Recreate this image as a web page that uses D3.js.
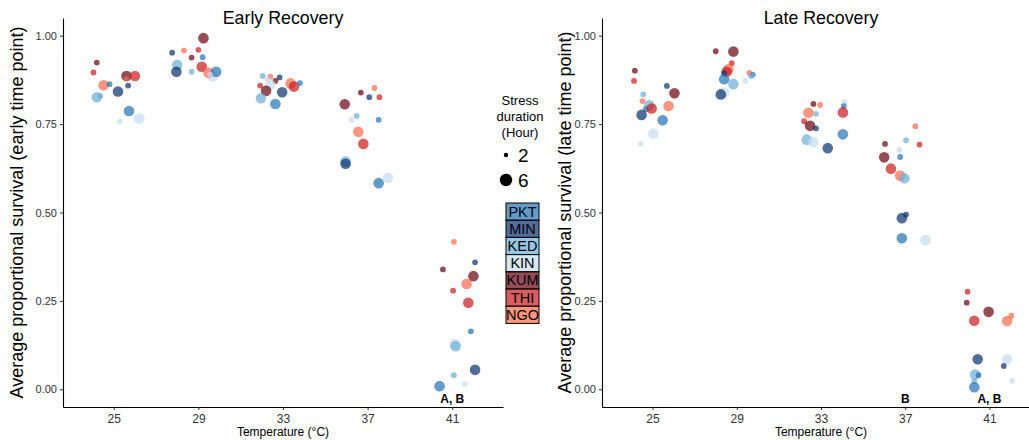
<!DOCTYPE html>
<html>
<head>
<meta charset="utf-8">
<script src="https://cdn.jsdelivr.net/npm/d3@7"></script>
<style>
  body { margin: 0; background: #fff; }
  svg { font-family: "Liberation Sans", Arial, sans-serif; }
</style>
</head>
<body>
<svg id="chart" width="1029" height="440"></svg>
<script>
// categories
const temps = [25, 29, 33, 37, 41];
const pops = ["PKT", "MIN", "KED", "KIN", "KUM", "THI", "NGO"];
const popColors = ["#2171b5", "#08306b", "#6baed6", "#c6dbef", "#67000d", "#cb181d", "#fb6a4a"];
const hours = [2, 6];

// [temperature, population, hours, jitter (fraction of a category), survival]
const early = [
  [25,"KUM",2,-0.20,0.924],[25,"THI",2,-0.24,0.896],[25,"NGO",6,-0.12,0.860],[25,"PKT",2,-0.05,0.863],
  [25,"MIN",6,0.05,0.842],[25,"KED",6,-0.20,0.826],[25,"KUM",6,0.15,0.886],[25,"THI",6,0.25,0.886],
  [25,"NGO",2,0.15,0.878],[25,"MIN",2,0.17,0.859],[25,"PKT",6,0.18,0.787],[25,"KIN",2,0.07,0.757],
  [25,"KIN",6,0.30,0.766],[25,"KED",2,-0.16,0.830],
  [29,"MIN",2,-0.31,0.952],[29,"NGO",2,-0.17,0.958],[29,"KUM",6,0.06,0.993],[29,"THI",2,0.00,0.960],
  [29,"KUM",2,-0.08,0.938],[29,"PKT",2,0.05,0.939],[29,"KED",6,-0.25,0.917],[29,"MIN",6,-0.26,0.898],
  [29,"KED",2,-0.08,0.898],[29,"THI",6,0.04,0.912],[29,"KIN",6,0.17,0.884],[29,"NGO",6,0.12,0.895],
  [29,"PKT",6,0.21,0.898],[29,"KIN",2,0.14,0.890],
  [33,"KED",2,-0.24,0.886],[33,"NGO",2,-0.15,0.884],[33,"MIN",2,-0.04,0.882],[33,"KUM",2,-0.09,0.872],
  [33,"THI",2,-0.27,0.859],[33,"KIN",6,-0.15,0.861],[33,"KUM",6,-0.20,0.844],[33,"MIN",6,-0.01,0.840],
  [33,"KED",6,-0.26,0.823],[33,"PKT",6,-0.09,0.807],[33,"NGO",6,0.09,0.865],[33,"THI",6,0.13,0.856],
  [33,"PKT",2,0.20,0.866],[33,"KIN",2,-0.18,0.876],
  [37,"NGO",2,0.08,0.852],[37,"KUM",2,-0.08,0.839],[37,"MIN",2,0.02,0.826],[37,"THI",2,0.14,0.826],
  [37,"KUM",6,-0.27,0.806],[37,"KED",2,-0.13,0.773],[37,"KIN",2,-0.19,0.762],[37,"PKT",2,0.13,0.762],
  [37,"NGO",6,-0.11,0.728],[37,"THI",6,-0.05,0.694],[37,"KED",6,-0.26,0.644],[37,"MIN",6,-0.26,0.638],
  [37,"KIN",6,0.24,0.598],[37,"PKT",6,0.13,0.583],
  [41,"NGO",2,0.02,0.417],[41,"MIN",2,0.27,0.359],[41,"KUM",2,-0.11,0.339],[41,"KUM",6,0.25,0.320],
  [41,"NGO",6,0.17,0.298],[41,"THI",2,0.01,0.279],[41,"THI",6,0.19,0.245],[41,"PKT",2,0.22,0.164],
  [41,"KIN",6,0.03,0.128],[41,"KED",6,0.04,0.122],[41,"MIN",6,0.27,0.055],[41,"KED",2,0.02,0.040],
  [41,"KIN",2,0.15,0.015],[41,"PKT",6,-0.15,0.009]
];

const late = [
  [25,"KUM",2,-0.21,0.901],[25,"THI",2,-0.22,0.872],[25,"MIN",2,0.17,0.858],[25,"KUM",6,0.26,0.837],
  [25,"KED",2,-0.11,0.834],[25,"NGO",2,-0.12,0.815],[25,"KED",6,-0.04,0.803],[25,"PKT",2,-0.08,0.792],
  [25,"THI",6,-0.01,0.794],[25,"NGO",6,0.19,0.801],[25,"MIN",6,-0.13,0.776],[25,"PKT",6,0.12,0.761],
  [25,"KIN",6,0.01,0.723],[25,"KIN",2,-0.14,0.694],
  [29,"KUM",2,-0.25,0.956],[29,"KUM",6,-0.04,0.955],[29,"THI",2,-0.06,0.922],[29,"NGO",6,-0.10,0.905],
  [29,"THI",6,-0.12,0.898],[29,"MIN",2,-0.15,0.894],[29,"NGO",2,0.15,0.895],[29,"PKT",6,-0.15,0.877],
  [29,"KED",6,-0.04,0.863],[29,"KIN",2,0.10,0.872],[29,"KIN",6,-0.15,0.839],[29,"MIN",6,-0.19,0.834],
  [29,"PKT",2,0.19,0.890],[29,"KED",2,0.17,0.886],
  [33,"KUM",2,-0.09,0.807],[33,"NGO",2,-0.01,0.804],[33,"NGO",6,-0.15,0.782],[33,"KED",2,-0.06,0.779],
  [33,"THI",2,-0.20,0.758],[33,"KUM",6,-0.13,0.745],[33,"MIN",2,-0.06,0.738],[33,"KED",6,-0.17,0.706],
  [33,"KIN",6,-0.09,0.699],[33,"MIN",6,0.08,0.682],[33,"KIN",2,0.28,0.812],[33,"PKT",2,0.27,0.801],
  [33,"THI",6,0.26,0.783],[33,"PKT",6,0.26,0.721],
  [37,"KUM",2,-0.24,0.694],[37,"KED",2,0.01,0.704],[37,"THI",2,0.17,0.692],[37,"KIN",2,-0.07,0.677],
  [37,"PKT",2,-0.06,0.657],[37,"KUM",6,-0.25,0.656],[37,"THI",6,-0.17,0.624],[37,"NGO",6,-0.06,0.604],
  [37,"KED",6,-0.01,0.597],[37,"MIN",6,-0.04,0.484],[37,"MIN",2,0.01,0.494],[37,"PKT",6,-0.04,0.427],
  [37,"KIN",6,0.24,0.422],[37,"NGO",2,0.12,0.744],
  [41,"THI",2,-0.26,0.276],[41,"KUM",2,-0.27,0.245],[41,"KUM",6,-0.01,0.219],[41,"THI",6,-0.18,0.194],
  [41,"NGO",6,0.21,0.193],[41,"NGO",2,0.26,0.208],[41,"MIN",6,-0.14,0.085],[41,"KIN",6,0.21,0.085],
  [41,"MIN",2,0.17,0.066],[41,"KED",6,-0.17,0.042],[41,"PKT",2,-0.13,0.040],[41,"KED",2,-0.18,0.023],
  [41,"PKT",6,-0.18,0.006],[41,"KIN",2,0.27,0.024]
];

// significance letters
const earlyLetters = [[41, "A, B"]];
const lateLetters = [[37, "B"], [41, "A, B"]];

const yTicks = [0, 0.25, 0.5, 0.75, 1];

const svg = d3.select("#chart");
const color = d3.scaleOrdinal(pops, popColors);
const size = d3.scaleSqrt().domain([2, 6]).range([2.9, 5.3]);
const alpha = 0.7;

const y = d3.scaleLinear().domain([-0.05, 1.05]).range([407, 18]);

function panel(data, letters, left, right, title, ytitle, ytitleX) {
  // ggplot-like discrete axis, 0.6 expansion on each side
  const x = d3.scaleLinear().domain([0.4, temps.length + 0.6]).range([left, right]);
  const xPos = (t, j) => x(temps.indexOf(t) + 1 + j);

  const g = svg.append("g");

  // y axis
  const ya = g.append("g")
    .attr("transform", `translate(${left},0)`)
    .call(d3.axisLeft(y).tickValues(yTicks).tickFormat(d3.format(".2f")).tickSize(3).tickSizeOuter(0));
  ya.select(".domain").attr("stroke", "#000").attr("stroke-width", 1.1);
  ya.selectAll(".tick line").attr("stroke", "#333");
  ya.selectAll(".tick text").attr("fill", "#333").attr("font-size", 11)
    .attr("font-family", "Liberation Sans, Arial, sans-serif");

  // x axis
  const xa = g.append("g")
    .attr("transform", `translate(0,407)`)
    .call(d3.axisBottom(x).tickValues(d3.range(1, temps.length + 1))
      .tickFormat(i => temps[i - 1]).tickSize(3).tickSizeOuter(0));
  xa.select(".domain").attr("stroke", "#000").attr("stroke-width", 1.1);
  xa.selectAll(".tick line").attr("stroke", "#333");
  xa.selectAll(".tick text").attr("fill", "#333").attr("font-size", 12).attr("dy", "0.85em")
    .attr("font-family", "Liberation Sans, Arial, sans-serif");

  // points
  g.append("g").selectAll("circle")
    .data(data)
    .join("circle")
      .attr("cx", d => xPos(d[0], d[3]))
      .attr("cy", d => y(d[4]))
      .attr("r", d => size(d[2]))
      .attr("fill", d => color(d[1]))
      .attr("fill-opacity", alpha);

  // letters
  g.append("g").selectAll("text")
    .data(letters)
    .join("text")
      .attr("x", d => xPos(d[0], 0))
      .attr("y", 403)
      .attr("text-anchor", "middle")
      .attr("font-weight", "bold")
      .attr("font-size", 12)
      .text(d => d[1]);

  // titles
  g.append("text")
    .attr("x", (left + right) / 2).attr("y", 24)
    .attr("text-anchor", "middle").attr("font-size", 17.8)
    .text(title);
  g.append("text")
    .attr("x", (left + right) / 2).attr("y", 436)
    .attr("text-anchor", "middle").attr("font-size", 12)
    .text("Temperature (°C)");
  g.append("text")
    .attr("transform", `translate(${ytitleX},${y(0.5)}) rotate(-90)`)
    .attr("text-anchor", "middle").attr("font-size", 18)
    .text(ytitle);
}

panel(early, earlyLetters, 63, 503, "Early Recovery",
  "Average proportional survival (early time point)", 23);
panel(late, lateLetters, 602, 1040, "Late Recovery",
  "Average proportional survival (late time point)", 571);

// legend: stress duration
const lg = svg.append("g");
["Stress", "duration", "(Hour)"].forEach((t, i) => {
  lg.append("text").attr("x", 520).attr("y", 105 + i * 16)
    .attr("text-anchor", "middle").attr("font-size", 13).text(t);
});
lg.selectAll(".sz")
  .data(hours)
  .join("g")
    .attr("transform", (d, i) => `translate(0,${155 + i * 25})`)
    .call(s => s.append("circle").attr("cx", 506).attr("r", d => d === 2 ? 2.2 : 6.2).attr("fill", "#000"))
    .call(s => s.append("text").attr("x", 518).attr("y", 6.5).attr("font-size", 19).text(d => d));

// legend: population colours
const boxH = 17.2;
const cl = lg.append("g").attr("transform", "translate(506,203)");
cl.selectAll("rect")
  .data(pops)
  .join("rect")
    .attr("x", 0).attr("y", (d, i) => i * boxH)
    .attr("width", 33).attr("height", boxH)
    .attr("fill", d => color(d)).attr("fill-opacity", alpha)
    .attr("stroke", "#000").attr("stroke-width", 1);
cl.selectAll("text")
  .data(pops)
  .join("text")
    .attr("x", 16.5).attr("y", (d, i) => i * boxH + boxH / 2 + 5)
    .attr("text-anchor", "middle").attr("font-size", 14.5)
    .text(d => d);
</script>
</body>
</html>
